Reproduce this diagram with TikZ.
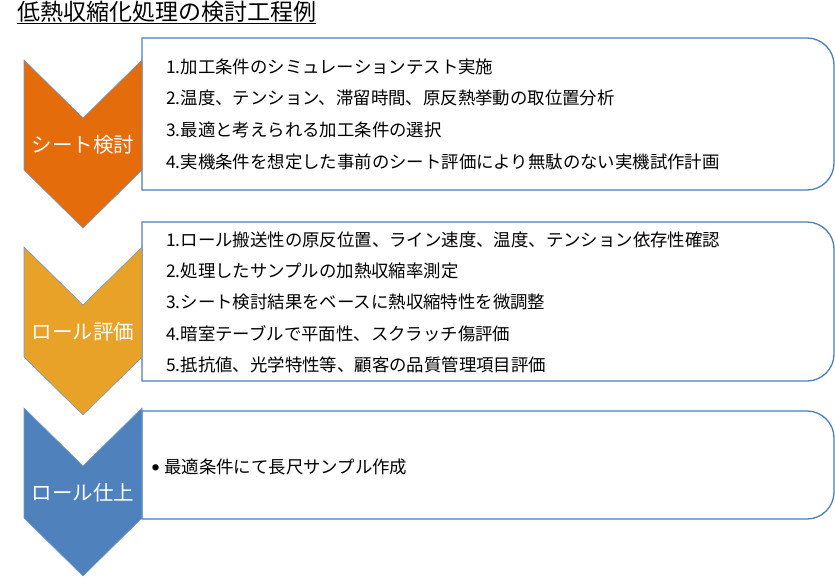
\documentclass[tikz,border=0pt]{standalone}
\usepackage{fontspec}
\usepackage{tikz}
\newfontfamily\jpfont{Noto Sans CJK JP}
\definecolor{sheetorange}{HTML}{E46C0A}
\definecolor{rollgold}{HTML}{E8A227}
\definecolor{finishblue}{HTML}{4F81BD}
\definecolor{frameblue}{HTML}{4A7EBB}
\def\chevron[#1](#2){\draw[#1] (24,#2) -- (83,#2+58) -- (142,#2) -- (142,#2+110) -- (83,#2+168) -- (24,#2+110) -- cycle;}
\def\stepframe(#1:#2){\draw[framebox] (142,#2) -- (142,#1) -- (500,#1) [rounded corners=27pt] -- (834,#1) -- (834,#2) -- (500,#2) [sharp corners] -- cycle;}
\tikzset{
  framebox/.style={line width=1.3pt, color=frameblue},
  chevronfill/.style={fill=#1, draw=finishblue!80, line width=0.6pt},
  steplabel/.style={text=white, inner sep=0pt, text height=18pt, text depth=2.5pt, font=\jpfont\fontsize{20.5}{24}\selectfont},
  itemline/.style={anchor=west, inner sep=0pt, text height=15.3pt, text depth=2.1pt, font=\jpfont\fontsize{17.4}{20}\selectfont}
}
\begin{document}
\begin{tikzpicture}[x=1pt, y=-1pt]
		%%%%% START %%%%%
		\useasboundingbox (0,0) rectangle (835,578);
		
		\node[anchor=west, inner sep=0pt, text height=20.2pt, text depth=2.8pt, font=\jpfont\fontsize{23}{26}\selectfont] (title) at (17,12) {低熱収縮化処理の検討工程例};
		\draw[line width=1.3pt] (title.south west) -- (title.south east);
		
		\stepframe(38:190)
		\stepframe(222:381)
		\stepframe(411:519)
		
		\chevron[chevronfill=sheetorange](60)
		\chevron[chevronfill=rollgold](247)
		\chevron[chevronfill=finishblue](408)
		
		\node[steplabel] (sheet) at (83,145) {シート検討};
		\node[steplabel] (roll) at (83,332) {ロール評価};
		\node[steplabel] (finish) at (83,493) {ロール仕上};
		
		\node[itemline] (sheet1) at (166,67) {1.加工条件のシミュレーションテスト実施};
		\node[itemline] (sheet2) at (166,98) {2.温度、テンション、滞留時間、原反熱挙動の取位置分析};
		\node[itemline] (sheet3) at (166,130) {3.最適と考えられる加工条件の選択};
		\node[itemline] (sheet4) at (166,162) {4.実機条件を想定した事前のシート評価により無駄のない実機試作計画};
		
		\node[itemline] (roll1) at (166,240) {1.ロール搬送性の原反位置、ライン速度、温度、テンション依存性確認};
		\node[itemline] (roll2) at (166,271) {2.処理したサンプルの加熱収縮率測定};
		\node[itemline] (roll3) at (166,302) {3.シート検討結果をベースに熱収縮特性を微調整};
		\node[itemline] (roll4) at (166,334) {4.暗室テーブルで平面性、スクラッチ傷評価};
		\node[itemline] (roll5) at (166,365) {5.抵抗値、光学特性等、顧客の品質管理項目評価};
		
		\node[itemline] (finish1) at (152,467) {\raisebox{3.6pt}{\fontsize{7}{7}\selectfont ●}\hspace{5pt}最適条件にて長尺サンプル作成};
		
		%%%%% END %%%%%
\end{tikzpicture}
\end{document}
